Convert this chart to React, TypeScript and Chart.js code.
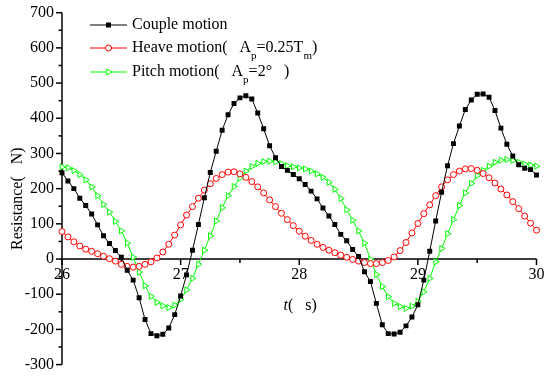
import React, { useEffect, useRef } from 'react';
import { Chart, registerables } from 'chart.js';

Chart.register(...registerables);

// time (s)
const times = [
  26.0, 26.05, 26.1, 26.15, 26.2, 26.25, 26.3, 26.35, 26.4, 26.45,
  26.5, 26.55, 26.6, 26.65, 26.7, 26.75, 26.8, 26.85, 26.9, 26.95,
  27.0, 27.05, 27.1, 27.15, 27.2, 27.25, 27.3, 27.35, 27.4, 27.45,
  27.5, 27.55, 27.6, 27.65, 27.7, 27.75, 27.8, 27.85, 27.9, 27.95,
  28.0, 28.05, 28.1, 28.15, 28.2, 28.25, 28.3, 28.35, 28.4, 28.45,
  28.5, 28.55, 28.6, 28.65, 28.7, 28.75, 28.8, 28.85, 28.9, 28.95,
  29.0, 29.05, 29.1, 29.15, 29.2, 29.25, 29.3, 29.35, 29.4, 29.45,
  29.5, 29.55, 29.6, 29.65, 29.7, 29.75, 29.8, 29.85, 29.9, 29.95,
  30.0,
];

// Couple motion resistance (N)
const coupleMotion = [
  245, 222, 200, 173, 152, 128, 97, 66, 44, 24,
  5, -32, -60, -110, -172, -212, -218, -214, -196, -158,
  -105, -45, 25, 98, 174, 246, 306, 366, 410, 442,
  458, 464, 455, 415, 370, 322, 288, 263, 252, 240,
  228, 212, 193, 171, 145, 122, 98, 70, 52, 27,
  7, -36, -64, -126, -187, -212, -213, -208, -190, -165,
  -130, -60, 22, 108, 190, 265, 328, 378, 425, 452,
  468, 469, 460, 422, 372, 326, 293, 268, 258, 254,
  239,
];

// Heave motion resistance (N)
const heaveMotion = [
  78, 63, 49, 37, 28, 22, 15, 8, 1, -6,
  -15, -21, -23, -21, -15, -8, 3, 20, 42, 68,
  97, 125, 149, 173, 196, 214, 229, 240, 247, 248,
  242, 232, 220, 205, 188, 168, 149, 130, 112, 95,
  79, 65, 53, 42, 33, 25, 18, 11, 5, -1,
  -6, -10, -13, -13, -10, -4, 6, 24, 47, 74,
  101, 129, 154, 180, 205, 225, 240, 250, 256, 257,
  252, 243, 231, 216, 199, 182, 163, 143, 122, 102,
  82,
];

// Pitch motion resistance (N)
const pitchMotion = [
  262, 259, 251, 240, 225, 205, 180, 155, 133, 107,
  80, 45, 5, -37, -76, -106, -123, -133, -138, -131,
  -115, -88, -55, -15, 25, 66, 108, 146, 180, 206,
  230, 250, 263, 272, 277, 278, 276, 271, 265, 262,
  259, 256, 250, 242, 232, 218, 198, 172, 140, 110,
  80, 45, 0, -44, -78, -107, -126, -135, -140, -134,
  -120, -93, -55, -8, 30, 72, 112, 152, 188, 215,
  237, 252, 264, 275, 281, 283, 280, 275, 270, 267,
  264,
];

const xTicks = [26, 27, 28, 29, 30];
const xMinorTicks = [26.5, 27.5, 28.5, 29.5];
const yTicks = [700, 600, 500, 400, 300, 200, 100, 0, -100, -200, -300];
const yMinorTicks = [650, 550, 450, 350, 250, 150, 50, -50, -150, -250];

const FONT = '"Liberation Serif", "Times New Roman", serif';
const BLACK = '#000000';
const RED = '#ff0000';
const GREEN = '#00ff00';

type Part = { text: string; sub?: boolean };

const legendItems: { parts: Part[]; color: string; style: string }[] = [
  { parts: [{ text: 'Couple motion' }], color: BLACK, style: 'rect' },
  {
    parts: [
      { text: 'Heave motion(   A' },
      { text: 'p', sub: true },
      { text: '=0.25T' },
      { text: 'm', sub: true },
      { text: ')' },
    ],
    color: RED,
    style: 'circle',
  },
  {
    parts: [
      { text: 'Pitch motion(   A' },
      { text: 'p', sub: true },
      { text: '=2°   )' },
    ],
    color: GREEN,
    style: 'triangle',
  },
];

const drawMarker = (ctx: CanvasRenderingContext2D, style: string, color: string, x: number, y: number) => {
  ctx.save();
  ctx.lineWidth = 1;
  ctx.strokeStyle = color;
  if (style === 'rect') {
    ctx.fillStyle = color;
    ctx.fillRect(x - 2.5, y - 2.5, 5, 5);
  } else if (style === 'circle') {
    ctx.fillStyle = '#ffffff';
    ctx.beginPath();
    ctx.arc(x, y, 3, 0, Math.PI * 2);
    ctx.fill();
    ctx.stroke();
  } else {
    ctx.fillStyle = '#ffffff';
    ctx.beginPath();
    ctx.moveTo(x + 3.5, y);
    ctx.lineTo(x - 1.75, y - 3.03);
    ctx.lineTo(x - 1.75, y + 3.03);
    ctx.closePath();
    ctx.fill();
    ctx.stroke();
  }
  ctx.restore();
};

const axesPlugin = {
  id: 'customAxes',
  beforeDatasetsDraw(chart: any) {
    const { ctx } = chart;
    const xs = chart.scales.x;
    const ys = chart.scales.y;
    const left = xs.getPixelForValue(xTicks[0]);
    const right = xs.getPixelForValue(xTicks[xTicks.length - 1]);
    const top = ys.getPixelForValue(yTicks[0]);
    const bottom = ys.getPixelForValue(yTicks[yTicks.length - 1]);
    const zeroY = ys.getPixelForValue(0);

    ctx.save();
    ctx.strokeStyle = '#000';
    ctx.fillStyle = '#000';
    ctx.lineWidth = 1.5;

    // y axis
    ctx.beginPath();
    ctx.moveTo(left, top);
    ctx.lineTo(left, bottom);
    ctx.stroke();
    yTicks.forEach((v) => {
      const py = ys.getPixelForValue(v);
      ctx.beginPath();
      ctx.moveTo(left - 6, py);
      ctx.lineTo(left, py);
      ctx.stroke();
    });
    yMinorTicks.forEach((v) => {
      const py = ys.getPixelForValue(v);
      ctx.beginPath();
      ctx.moveTo(left - 3.5, py);
      ctx.lineTo(left, py);
      ctx.stroke();
    });

    // x axis at y = 0
    ctx.beginPath();
    ctx.moveTo(left, zeroY);
    ctx.lineTo(right, zeroY);
    ctx.stroke();
    xTicks.forEach((v) => {
      const px = xs.getPixelForValue(v);
      ctx.beginPath();
      ctx.moveTo(px, zeroY);
      ctx.lineTo(px, zeroY + 6);
      ctx.stroke();
    });
    xMinorTicks.forEach((v) => {
      const px = xs.getPixelForValue(v);
      ctx.beginPath();
      ctx.moveTo(px, zeroY);
      ctx.lineTo(px, zeroY + 4);
      ctx.stroke();
    });

    // tick labels
    ctx.font = `16px ${FONT}`;
    ctx.textAlign = 'right';
    ctx.textBaseline = 'middle';
    yTicks.forEach((v) => {
      ctx.fillText(String(v), left - 8, ys.getPixelForValue(v));
    });
    ctx.textAlign = 'center';
    ctx.textBaseline = 'top';
    xTicks.forEach((v) => {
      ctx.fillText(String(v), xs.getPixelForValue(v), zeroY + 8);
    });

    // y title
    ctx.save();
    ctx.translate(18, (top + bottom) / 2 + 10);
    ctx.rotate(-Math.PI / 2);
    ctx.textAlign = 'center';
    ctx.textBaseline = 'middle';
    ctx.font = `16px ${FONT}`;
    ctx.fillText('Resistance(   N)', 0, 0);
    ctx.restore();

    // x title
    ctx.textAlign = 'left';
    ctx.textBaseline = 'middle';
    const xt = (left + right) / 2 + 1;
    const yt = zeroY + 47;
    ctx.font = `italic 16px ${FONT}`;
    const tW = ctx.measureText('t').width;
    ctx.font = `16px ${FONT}`;
    const restW = ctx.measureText('(   s)').width;
    const startX = xt - (tW + restW) / 2;
    ctx.font = `italic 16px ${FONT}`;
    ctx.fillText('t', startX, yt);
    ctx.font = `16px ${FONT}`;
    ctx.fillText('(   s)', startX + tW, yt);

    ctx.restore();
  },
  afterDraw(chart: any) {
    const { ctx } = chart;
    ctx.save();
    const rows = [25, 48, 72];
    legendItems.forEach((item, i) => {
      const y = rows[i];
      ctx.strokeStyle = item.color;
      ctx.lineWidth = 1;
      ctx.beginPath();
      ctx.moveTo(90, y);
      ctx.lineTo(127, y);
      ctx.stroke();
      drawMarker(ctx, item.style, item.color, 108.5, y);
      let x = 132;
      ctx.fillStyle = '#000';
      ctx.textAlign = 'left';
      ctx.textBaseline = 'middle';
      item.parts.forEach((p) => {
        if (p.sub) {
          ctx.font = `11px ${FONT}`;
          ctx.fillText(p.text, x, y + 8);
        } else {
          ctx.font = `16px ${FONT}`;
          ctx.fillText(p.text, x, y);
        }
        x += ctx.measureText(p.text).width;
      });
    });
    ctx.restore();
  },
};

export default function App() {
  const ref = useRef<HTMLCanvasElement | null>(null);

  useEffect(() => {
    if (!ref.current) return;
    const mk = (vals: number[]) => times.map((t, i) => ({ x: t, y: vals[i] }));
    const chart = new Chart(ref.current, {
      type: 'line',
      data: {
        datasets: [
          {
            label: 'Couple motion',
            data: mk(coupleMotion),
            borderColor: BLACK,
            backgroundColor: BLACK,
            borderWidth: 1,
            pointStyle: 'rect',
            pointRadius: 3.5,
            pointBorderWidth: 0,
            pointBackgroundColor: BLACK,
            tension: 0,
            clip: 6,
          },
          {
            label: 'Heave motion',
            data: mk(heaveMotion),
            borderColor: RED,
            backgroundColor: '#ffffff',
            borderWidth: 1,
            pointStyle: 'circle',
            pointRadius: 3,
            pointBorderWidth: 1,
            pointBackgroundColor: '#ffffff',
            pointBorderColor: RED,
            tension: 0,
            clip: 6,
          },
          {
            label: 'Pitch motion',
            data: mk(pitchMotion),
            borderColor: GREEN,
            backgroundColor: '#ffffff',
            borderWidth: 1,
            pointStyle: 'triangle',
            pointRotation: 90,
            pointRadius: 3.5,
            pointBorderWidth: 1,
            pointBackgroundColor: '#ffffff',
            pointBorderColor: GREEN,
            tension: 0,
            clip: 6,
          },
        ],
      },
      options: {
        responsive: false,
        animation: false,
        devicePixelRatio: 1,
        layout: { padding: { left: 62, right: 13.5, top: 12.7, bottom: 12.4 } },
        scales: {
          x: { type: 'linear', min: 26, max: 30, display: false },
          y: { type: 'linear', min: -300, max: 700, display: false },
        },
        plugins: {
          legend: { display: false },
          tooltip: { enabled: false },
        },
      },
      plugins: [axesPlugin],
    } as any);
    return () => chart.destroy();
  }, []);

  return (
    <div style={{ position: 'absolute', left: 0, top: 0, width: 550, height: 377, background: '#fff' }}>
      <canvas ref={ref} width={550} height={377} />
    </div>
  );
}
